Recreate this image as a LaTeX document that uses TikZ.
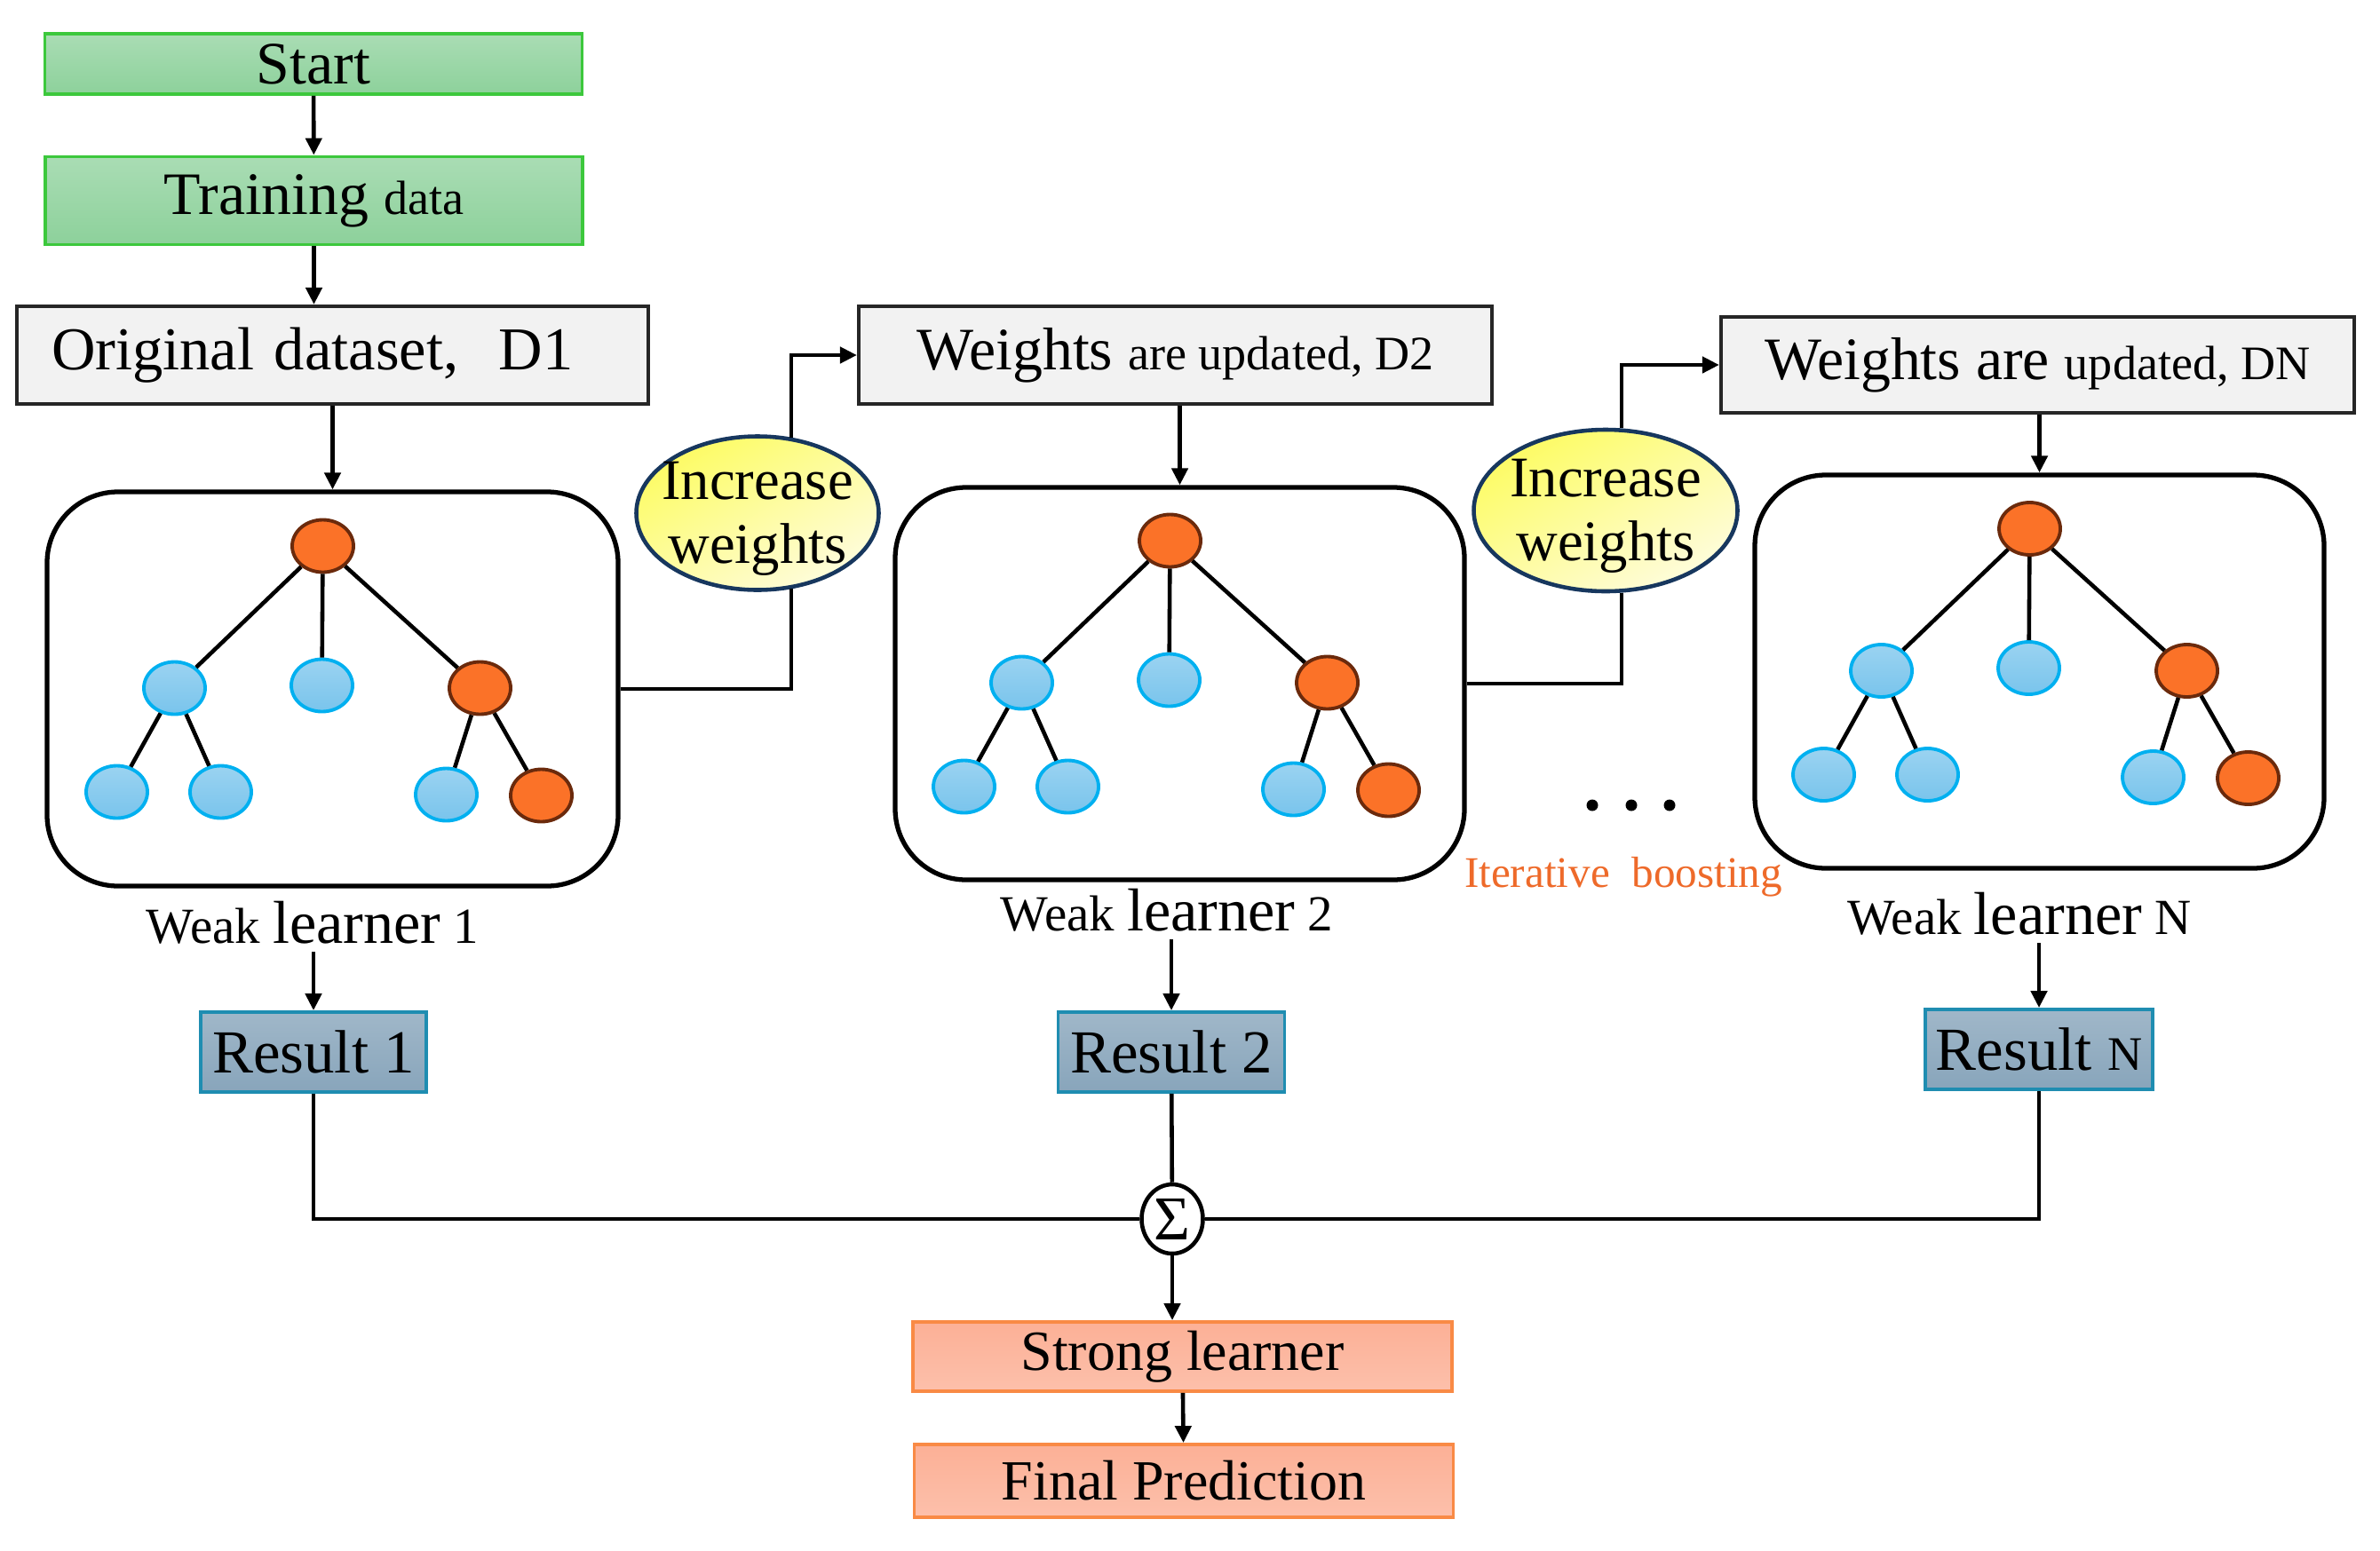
\documentclass[tikz,border=0pt]{standalone}
\usepackage{fontspec}
\setmainfont{Liberation Serif}
\usetikzlibrary{arrows.meta, positioning, calc, shapes.geometric}
\definecolor{grnf}{HTML}{8DD19B}
\definecolor{grnd}{HTML}{3CC83C}
\definecolor{grayf}{HTML}{F2F2F2}
\definecolor{ylwf}{HTML}{FCF9A6}
\definecolor{ylwd}{HTML}{17375E}
\definecolor{orgf}{HTML}{FB7228}
\definecolor{orgd}{HTML}{6B2A0C}
\definecolor{bluf}{HTML}{79C4EC}
\definecolor{blud}{HTML}{00B0F0}
\definecolor{resf}{HTML}{88A5BB}
\definecolor{resd}{HTML}{1F8DB1}
\definecolor{salf}{HTML}{FCB096}
\definecolor{sald}{HTML}{F98A45}
\definecolor{itc}{HTML}{EE6A2A}
\newcommand{\fbigtxt}{\fontsize{19.3pt}{21pt}\selectfont}
\newcommand{\fsmtxt}{\fontsize{15.4pt}{17pt}\selectfont}
\newcommand{\fwltxt}{\fontsize{16.2pt}{18pt}\selectfont}

\begin{document}
\begin{tikzpicture}[>={Triangle[length=1.9mm, width=1.8mm]}, line width=1.3pt,
    greenbox/.style={draw=grnd, top color=grnf!75!white, bottom color=grnf,
        line width=1.1pt, minimum width=6.05cm, inner sep=0pt, font=\fbigtxt},
    databox/.style={draw=black!85, fill=grayf, line width=1.2pt,
        inner sep=0pt, font=\fbigtxt},
    learnbox/.style={draw, rounded corners=0.8cm, line width=1.5pt},
    incr/.style={ellipse, draw=ylwd, line width=1.3pt, inner sep=0pt,
        top color=ylwf!60!yellow, bottom color=ylwf!40!white, shading angle=30},
    incrtxt/.style={align=center, yshift=-0.06cm,
        font=\fontsize{18.4pt}{20.6pt}\selectfont},
    onode/.style={ellipse, draw=orgd, fill=orgf, line width=1.1pt,
        minimum width=0.69cm, minimum height=0.59cm, inner sep=0pt},
    bnode/.style={ellipse, draw=blud, top color=bluf!75!white, bottom color=bluf,
        line width=1.1pt, minimum width=0.69cm, minimum height=0.59cm, inner sep=0pt},
    wlabel/.style={anchor=base, inner sep=2pt},
    resbox/.style={draw=resd, top color=resf!80!white, bottom color=resf,
        line width=1.1pt, minimum height=0.90cm, inner sep=0pt,
        font=\fontsize{19.6pt}{21pt}\selectfont},
    salbox/.style={draw=sald, top color=salf, bottom color=salf!80!white,
        line width=1.1pt, minimum width=6.07cm, inner sep=0pt,
        font=\fontsize{18.2pt}{20pt}\selectfont}]
    \useasboundingbox (0,0) rectangle (26.8,-17.46);
    % start and data
    \node[greenbox, minimum height=0.68cm] (start) at (3.53,-0.72) {Start};
    \node[greenbox, minimum height=0.99cm] (train) at (3.535,-2.26)
        {Training {\fsmtxt data}};
    \node[databox, minimum height=1.10cm, text width=6.33cm, align=left,
        inner xsep=0.39cm] (d1) at (3.745,-4.00)
        {\fontsize{19.5pt}{22pt}\selectfont Original dataset,~ D1};
    \node[databox, minimum width=7.13cm, minimum height=1.10cm] (d2)
        at (13.235,-4.00) {Weights {\fsmtxt are updated, D2}};
    \node[databox, minimum width=7.13cm, minimum height=1.08cm] (dN)
        at (22.945,-4.11) {Weights are {\fsmtxt updated, DN}};
    \draw[->] (start) -- (train);
    \draw[->] (train) -- (train |- d1.north);
    % weak learners
    \node[learnbox, minimum width=6.43cm, minimum height=4.44cm] (b1)
        at (3.745,-7.76) {};
    \node[learnbox, minimum width=6.41cm, minimum height=4.42cm] (b2)
        at (13.285,-7.70) {};
    \node[learnbox, minimum width=6.41cm, minimum height=4.43cm] (bN)
        at (22.965,-7.565) {};
    \draw[->] (d1) -- (b1);
    \draw[->] (b2 |- d2.south) -- (b2.north);
    \draw[->] (bN |- dN.south) -- (bN.north);
    \foreach \b in {b1,b2,bN}{
        \node[onode] (\b-r) at ($(\b)+(-0.11,1.61)$) {};
        \node[bnode] (\b-a) at ($(\b)+(-1.78,0.01)$) {};
        \node[bnode] (\b-b) at ($(\b)+(-0.12,0.04)$) {};
        \node[onode] (\b-c) at ($(\b)+(1.66,0.01)$) {};
        \node[bnode] (\b-aa) at ($(\b)+(-2.43,-1.16)$) {};
        \node[bnode] (\b-ab) at ($(\b)+(-1.26,-1.16)$) {};
        \node[bnode] (\b-ca) at ($(\b)+(1.28,-1.19)$) {};
        \node[onode] (\b-cb) at ($(\b)+(2.35,-1.20)$) {};
        \draw (\b-r) -- (\b-a);
        \draw (\b-r) -- (\b-b);
        \draw (\b-r) -- (\b-c);
        \draw (\b-a) -- (\b-aa);
        \draw (\b-a) -- (\b-ab);
        \draw (\b-c) -- (\b-ca);
        \draw (\b-c) -- (\b-cb);
    }
    % increase weights
    \node[incr, minimum width=2.73cm, minimum height=1.73cm,
        label={[incrtxt]center:Increase\\weights}] (e1) at (8.53,-5.78) {};
    \node[incr, minimum width=2.97cm, minimum height=1.82cm,
        label={[incrtxt]center:Increase\\weights}] (e2) at (18.08,-5.75) {};
    \draw (b1.east) -| (e1.-66);
    \draw[->] (e1.66) |- (d2.west);
    \draw (b2.east) -| (e2.-79);
    \draw[->] (e2.79) |- (dN.west);
    \foreach \x in {17.93,18.37,18.80} \fill (\x,-9.07) circle (0.065);
    \node[anchor=base, text=itc, font=\fontsize{14pt}{16pt}\selectfont] (iter)
        at (18.28,-9.99) {Iterative~ boosting};
    % labels and results
    \node[wlabel] (wl1) at (3.52,-10.62)
        {\fwltxt Weak {\fontsize{19.4pt}{20pt}\selectfont learner} 1};
    \node[wlabel] (wl2) at (13.14,-10.48)
        {\fwltxt Weak {\fontsize{19.4pt}{20pt}\selectfont learner} 2};
    \node[wlabel] (wlN) at (22.74,-10.52)
        {\fwltxt Weak {\fontsize{19.4pt}{20pt}\selectfont learner} N};
    \node[resbox, minimum width=2.54cm] (r1) at (3.53,-11.85) {Result 1};
    \node[resbox, minimum width=2.55cm] (r2) at (13.19,-11.85) {Result 2};
    \node[resbox, minimum width=2.56cm] (rN) at (22.96,-11.82)
        {Result {\fsmtxt N}};
    \draw[->] (r1 |- wl1.south) -- (r1.north);
    \draw[->] (r2 |- wl2.south) -- (r2.north);
    \draw[->] (rN |- wlN.south) -- (rN.north);
    % combine
    \node[ellipse, draw, fill=white, line width=1.3pt, minimum width=0.69cm,
        minimum height=0.78cm, inner sep=0pt,
        font=\fontsize{20pt}{22pt}\selectfont] (sum) at (13.20,-13.73) {Σ};
    \draw (r1.south) |- (sum.west);
    \draw (rN.south) |- (sum.east);
    \draw (r2) -- (sum);
    \node[salbox, minimum height=0.78cm] (strong) at (13.315,-15.28)
        {Strong learner};
    \node[salbox, minimum height=0.82cm] (final) at (13.33,-16.68)
        {Final Prediction};
    \draw[->] (sum) -- (sum |- strong.north);
    \draw[->] (strong) -- (final);
\end{tikzpicture}
\end{document}
